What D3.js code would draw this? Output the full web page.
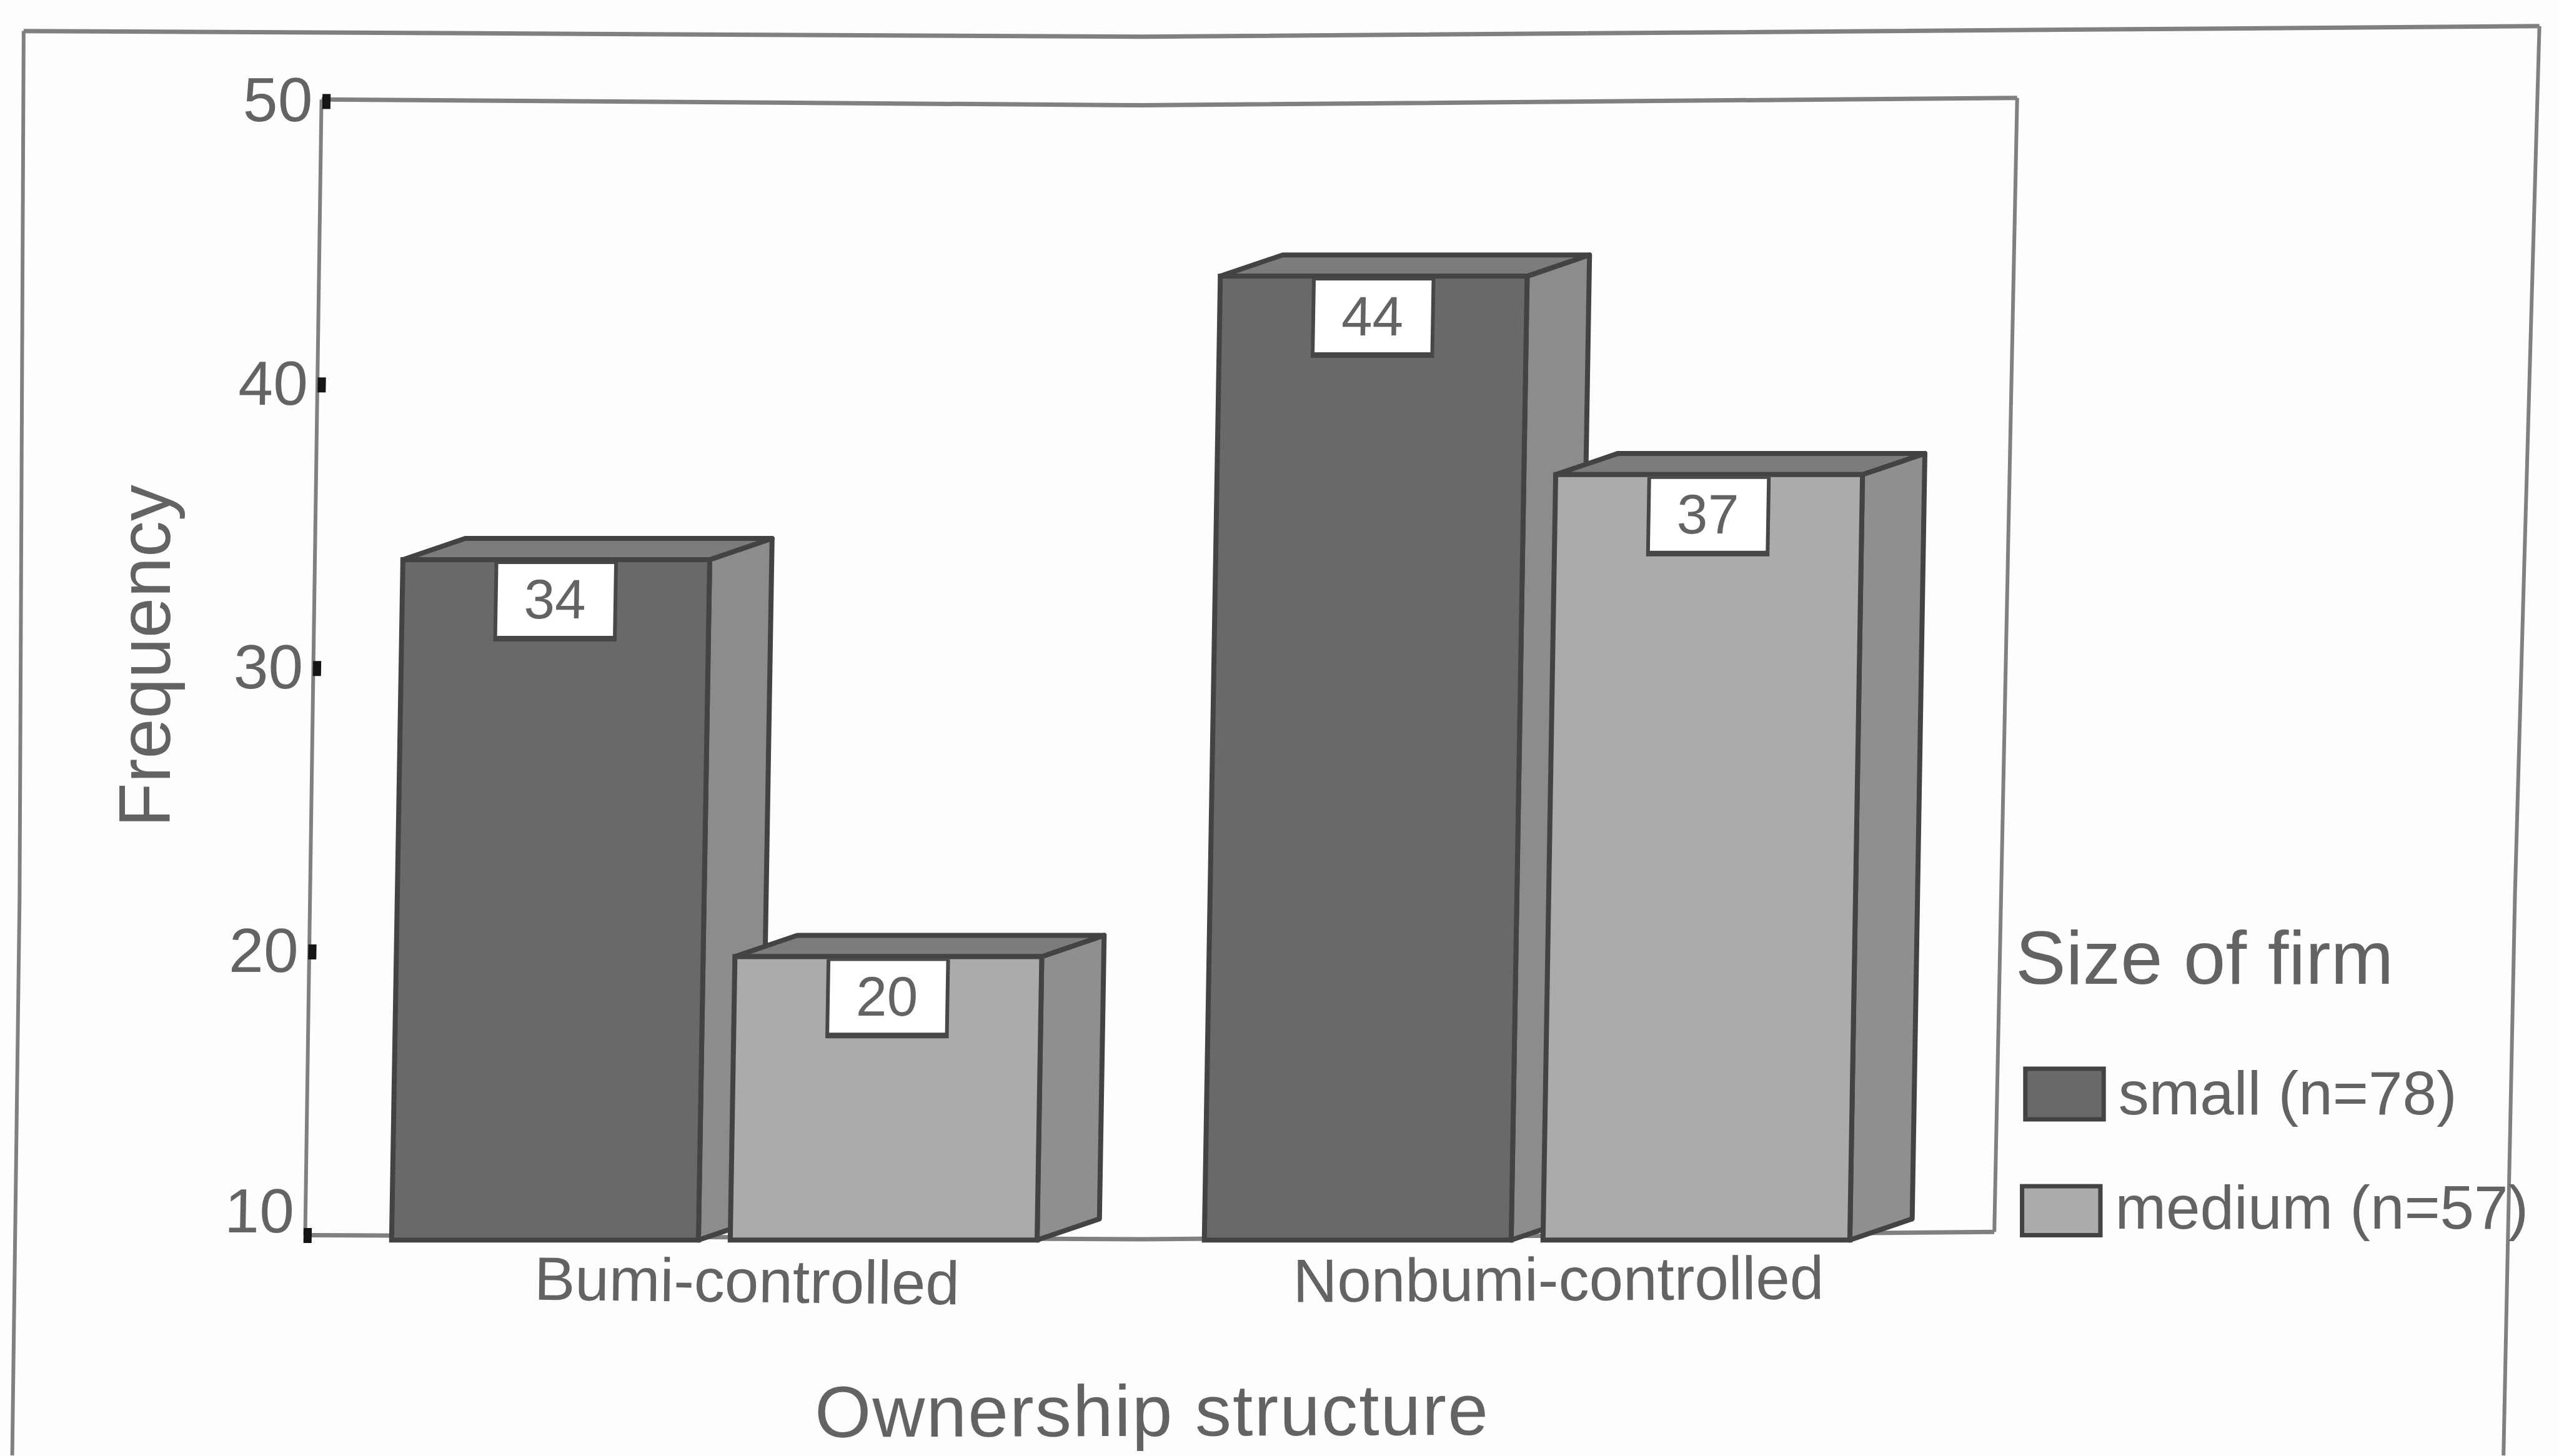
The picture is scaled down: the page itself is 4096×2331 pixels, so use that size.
<!DOCTYPE html>
<html>
<head>
<meta charset="utf-8">
<script src="https://cdn.jsdelivr.net/npm/d3@7"></script>
<style>
  html, body { margin: 0; padding: 0; background: #fdfdfd; overflow: hidden; }
  svg { display: block; }
  text { font-family: "Liberation Sans", Arial, sans-serif; fill: #636363; }
</style>
</head>
<body>
<svg id="chart" width="4096" height="2331"></svg>
<script>
// Frequency of firms by ownership structure and firm size
const categories = ["Bumi-controlled", "Nonbumi-controlled"];
const sizes = ["small", "medium"];
const smallValues = [34, 44];
const mediumValues = [20, 37];
const yTicks = [10, 20, 30, 40, 50];
const legendLabels = ["small (n=78)", "medium (n=57)"];
const legendTitle = "Size of firm";
const xTitle = "Ownership structure";
const yTitle = "Frequency";

const valuesBySize = { small: smallValues, medium: mediumValues };
const palette = {
  small: { front: "#696969", side: "#8c8c8c", top: "#7c7c7c" },
  medium: { front: "#ababab", side: "#8f8f8f", top: "#7c7c7c" }
};

// Layout unit: everything below is given on a 1568-wide grid
const k = 4096 / 1568;
const px = v => v * k;
const svg = d3.select("#chart");
const baseY = px(757);
const lean = -0.95; // the plot leans slightly to the right going up
const ink = "#434343", frameInk = "#808080";

const straight = d3.line().x(d => px(d[0])).y(d => px(d[1]));
const bowed = d3.line().x(d => px(d[0])).y(d => px(d[1])).curve(d3.curveNatural);

function stroke(path, gen, width) {
  svg.append("path").attr("d", gen(path))
    .attr("fill", "none").attr("stroke", frameInk).attr("stroke-width", width);
}

// Outer frame, open at the bottom edge
stroke([[14.5, 19], [700, 22.5], [1556, 16]], bowed, 7);
stroke([[14.5, 19], [12, 550], [7.5, 892]], straight, 6);
stroke([[1556, 16], [1541, 549], [1534, 892]], straight, 6);

// Plot frame
stroke([[197, 61], [700, 64.5], [1236, 60]], bowed, 7);
stroke([[197, 61], [187, 757]], straight, 6);
stroke([[187, 757], [700, 759.5], [1222, 755]], bowed, 7);
stroke([[1236, 60], [1222, 755]], straight, 6);

const plot = svg.append("g")
  .attr("transform", `translate(0,${baseY}) skewX(${lean}) translate(0,${-baseY})`);

// Scales
const y = d3.scaleLinear().domain([10, 50]).range([baseY, px(62)]);
const x0 = d3.scaleBand().domain(categories).range([px(240), px(240 + 2 * 498)]);
const x1 = d3.scaleBand().domain(sizes).range([0, px(415)]);
const barWidth = px(188);
const depthX = px(38), depthY = px(13);
const frontDrop = px(3); // bars stand just in front of the axis plane

// Y axis ticks and labels; the lowest label rides above its tick
const axis = d3.axisLeft(y).tickValues(yTicks).tickSize(px(5)).tickPadding(px(6));
const axisG = plot.append("g").attr("transform", `translate(${px(191)},0)`).call(axis);
axisG.select(".domain").remove();
axisG.selectAll(".tick line").attr("stroke", "#151515").attr("stroke-width", 24);
axisG.selectAll(".tick text")
  .attr("font-size", 100).attr("font-family", "Liberation Sans").attr("fill", "#636363")
  .attr("y", d => d === 10 ? px(-14) : 0);

// Bars drawn as three faces each
const groups = plot.selectAll(".cat").data(categories).join("g")
  .attr("class", "cat")
  .attr("transform", d => `translate(${x0(d)},0)`);

sizes.forEach(size => {
  const col = palette[size];
  const bars = groups.append("g").attr("class", size)
    .attr("transform", `translate(${x1(size)},0)`)
    .datum((d, i) => ({ v: valuesBySize[size][i] }));

  const topY = d => y(d.v) + frontDrop;
  const botY = baseY + frontDrop;

  bars.append("path").attr("fill", col.side).attr("stroke", ink).attr("stroke-width", 8)
    .attr("stroke-linejoin", "round")
    .attr("d", d => `M${barWidth},${topY(d)}l${depthX},${-depthY}V${botY - depthY}l${-depthX},${depthY}Z`);
  bars.append("path").attr("fill", col.top).attr("stroke", ink).attr("stroke-width", 8)
    .attr("stroke-linejoin", "round")
    .attr("d", d => `M0,${topY(d)}l${depthX},${-depthY}h${barWidth}l${-depthX},${depthY}Z`);
  bars.append("rect").attr("x", 0).attr("width", barWidth)
    .attr("y", topY).attr("height", d => botY - topY(d))
    .attr("fill", col.front).attr("stroke", ink).attr("stroke-width", 8);

  // Value labels on a white tag at the top of the front face
  const tagW = px(71), tagH = px(44);
  const tagX = (barWidth - tagW) / 2;
  bars.append("rect").attr("x", tagX - 6).attr("y", d => topY(d) + 4)
    .attr("width", tagW + 12).attr("height", tagH + 12).attr("fill", "#474747");
  bars.append("rect").attr("x", tagX).attr("y", d => topY(d) + 7)
    .attr("width", tagW).attr("height", tagH).attr("fill", "#ffffff");
  bars.append("text").attr("x", barWidth / 2 - 1).attr("y", d => topY(d) + 7 + tagH / 2 + 30)
    .attr("text-anchor", "middle").attr("font-size", 89)
    .text(d => d.v);
});

// Category labels with the slight tilt of the page
const catTilt = [0.65, -0.35];
svg.selectAll(".catlabel").data(categories).join("text")
  .attr("class", "catlabel")
  .attr("font-size", 98)
  .attr("text-anchor", "middle")
  .attr("transform", (d, i) => `translate(${px([457.5, 955][i])},${px([798, 797][i])}) rotate(${catTilt[i]})`)
  .text(d => d);

// Axis titles
svg.append("text")
  .attr("transform", `translate(${px(706)},${px(880)}) rotate(-0.2)`)
  .attr("text-anchor", "middle").attr("font-size", 116).attr("letter-spacing", 2.2)
  .text(xTitle);
svg.append("text")
  .attr("transform", `translate(${px(104)},${px(402)}) rotate(-90)`)
  .attr("text-anchor", "middle").attr("font-size", 116)
  .text(yTitle);

// Legend
svg.append("text")
  .attr("x", px(1235)).attr("y", px(603)).attr("font-size", 121)
  .text(legendTitle);
const legendRows = [
  { sw: [1241, 655, 48, 31], tx: 1298, ty: 683 },
  { sw: [1239, 727, 48, 30], tx: 1296, ty: 753 }
];
sizes.forEach((size, i) => {
  const r = legendRows[i];
  svg.append("rect").attr("x", px(r.sw[0])).attr("y", px(r.sw[1]))
    .attr("width", px(r.sw[2])).attr("height", px(r.sw[3]))
    .attr("fill", palette[size].front).attr("stroke", ink).attr("stroke-width", 7);
  svg.append("text").attr("x", px(r.tx)).attr("y", px(r.ty)).attr("font-size", 98)
    .text(legendLabels[i]);
});
</script>
</body>
</html>
